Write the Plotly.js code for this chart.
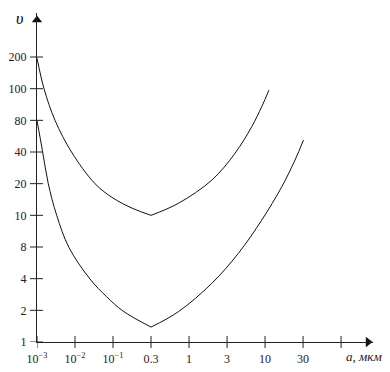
<!DOCTYPE html>
<html>
<head>
<meta charset="utf-8">
<script src="https://cdn.plot.ly/plotly-3.0.1.min.js"></script>
<style>html,body{margin:0;padding:0;background:#fff;}#chart{width:390px;height:372px;}</style>
</head>
<body>
<div id="chart"></div>
<script>
// Axis tick values (the original chart uses an irregular, evenly spaced scale)
const xTickVals = [0.001, 0.01, 0.1, 0.3, 1, 3, 10, 30, 100];
const xTickText = ['10<sup>−3</sup>', '10<sup>−2</sup>', '10<sup>−1</sup>', '0.3', '1', '3', '10', '30'];
const yTickVals = [1, 2, 4, 8, 10, 20, 40, 80, 100, 200];
const yTickText = ['1', '2', '4', '8', '10', '20', '40', '80', '100', '200'];

// Upper curve: particle size a (мкм) vs υ
const upperA = [0.001, 0.00153, 0.00298, 0.00809, 0.0336, 0.1, 0.178, 0.3, 0.712, 1.93, 3.86, 6.56, 9.0, 11.2];
const upperV = [195, 100, 80, 40, 20, 14.6, 11.6, 10, 13.0, 21.6, 38.9, 69.6, 88.1, 99];

// Lower curve
const lowerA = [0.001, 0.00141, 0.00198, 0.0033, 0.00695, 0.0248, 0.0682, 0.1335, 0.3, 0.712, 1.93, 4.29, 9.0, 16.2, 23.8, 30.4];
const lowerV = [80, 40, 20, 10, 7.9, 3.97, 2.69, 1.97, 1.385, 1.94, 3.61, 6.96, 9.67, 18.66, 33.6, 52.0];

// piecewise-log position on the chart's evenly spaced tick scale
function pos(v, ticks) {
  for (let i = 0; i < ticks.length - 1; i++) {
    if (v <= ticks[i + 1] || i === ticks.length - 2) {
      return i + Math.log(v / ticks[i]) / Math.log(ticks[i + 1] / ticks[i]);
    }
  }
}
const xp = a => a.map(v => pos(v, xTickVals));
const yp = a => a.map(v => pos(v, yTickVals));

function branches(A, V) {
  let m = 0;
  V.forEach((v, i) => { if (v < V[m]) m = i; });
  const X = xp(A), Y = yp(V);
  const st = {mode: 'lines', line: {color: '#111', width: 1, shape: 'spline', smoothing: 1}, hoverinfo: 'skip', showlegend: false};
  return [
    Object.assign({x: X.slice(0, m + 1), y: Y.slice(0, m + 1)}, st),
    Object.assign({x: X.slice(m), y: Y.slice(m)}, st)
  ];
}

const xTickPos = xTickVals.map((v, i) => i);
const yTickPos = yTickVals.map((v, i) => i);
const xLabelPos = xTickText.map((t, i) => i);
const xMax = 8.84, yMax = 10.39;
const W = 390, H = 372, M = {l: 37, r: 17, t: 13, b: 30};
const plotW = W - M.l - M.r, plotH = H - M.t - M.b;
const font = {family: 'Liberation Serif, Times New Roman, serif', size: 12, color: '#222'};

// axis arrow heads
const arrows = [
  {x: [xMax - 0.13], y: [0], mode: 'markers', cliponaxis: false, hoverinfo: 'skip', showlegend: false,
   marker: {symbol: 'triangle-right', size: 9, color: '#111'}},
  {x: [0], y: [yMax - 0.22], mode: 'markers', cliponaxis: false, hoverinfo: 'skip', showlegend: false,
   marker: {symbol: 'triangle-up', size: 9, color: '#111'}}
];

const data = [].concat(branches(upperA, upperV), branches(lowerA, lowerV), arrows);

// ticks that cross the axis lines
const tickLine = {color: '#222', width: 1};
const shapes = [].concat(
  xTickPos.map(i => ({type: 'line', xref: 'x', yref: 'paper', x0: i, x1: i, y0: -6 / plotH, y1: 6 / plotH, line: tickLine})),
  yTickPos.map(i => ({type: 'line', xref: 'paper', yref: 'y', x0: -7 / plotW, x1: 6 / plotW, y0: i, y1: i, line: tickLine}))
);

const layout = {
  width: W, height: H,
  margin: M,
  paper_bgcolor: '#fff', plot_bgcolor: '#fff',
  font: font,
  xaxis: {range: [0, xMax], tickmode: 'array', tickvals: xLabelPos, ticktext: xTickText, ticks: 'outside', ticklen: 6, tickcolor: 'rgba(0,0,0,0)',
          showline: true, linecolor: '#222', linewidth: 1, showgrid: false, zeroline: false, fixedrange: true},
  yaxis: {range: [0, yMax], tickmode: 'array', tickvals: yTickPos, ticktext: yTickText, ticks: 'outside', ticklen: 7, tickcolor: 'rgba(0,0,0,0)',
          showline: true, linecolor: '#222', linewidth: 1, showgrid: false, zeroline: false, fixedrange: true},
  shapes: shapes,
  annotations: [
    {x: 1, y: 0, xref: 'paper', yref: 'paper', xanchor: 'right', yanchor: 'top', xshift: 11, yshift: -5, text: '<i>a</i>, <i>мкм</i>', showarrow: false, font: {family: font.family, size: 13, color: '#222'}},
    {x: 0, y: 1, xref: 'paper', yref: 'paper', xanchor: 'right', yanchor: 'middle', xshift: -12, yshift: -5, text: '<i>υ</i>', showarrow: false, font: {family: font.family, size: 16, color: '#000'}}
  ]
};
Plotly.newPlot('chart', data, layout, {displayModeBar: false, staticPlot: true});
</script>
</body>
</html>
